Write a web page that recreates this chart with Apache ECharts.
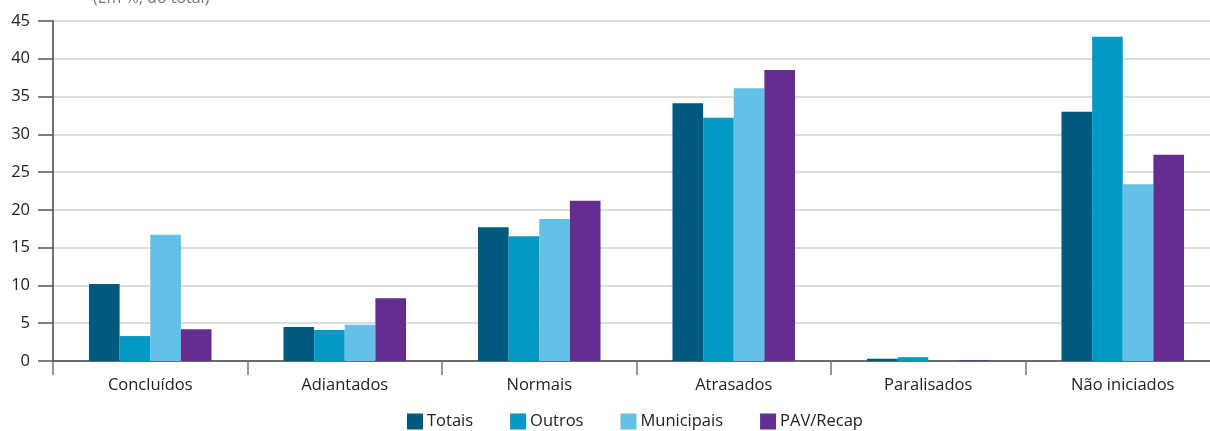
<!DOCTYPE html>
<html>
<head>
<meta charset="utf-8">
<script src="https://cdn.jsdelivr.net/npm/echarts@6/dist/echarts.min.js"></script>
<style>
  html, body { margin: 0; padding: 0; background: #fff; }
  #chart { width: 1210px; height: 431px; }
</style>
</head>
<body>
<div id="chart"></div>
<script>
// Situação das obras por tipo (em %)
const categories = ['Concluídos', 'Adiantados', 'Normais', 'Atrasados', 'Paralisados', 'Não iniciados'];
const totais     = [10.2, 4.5, 17.7, 34.1, 0.3, 33.0];
const outros     = [3.3, 4.1, 16.5, 32.2, 0.5, 42.9];
const municipais = [16.7, 4.8, 18.8, 36.1, 0.0, 23.4];
const pavRecap   = [4.2, 8.3, 21.2, 38.5, 0.1, 27.3];
const yTicks = { min: 0, max: 45, interval: 5 };

const font = '"Open Sans", "Noto Sans", sans-serif';
const colors = ['#005a7d', '#0398c5', '#63c0e6', '#662d91'];

const chart = echarts.init(document.getElementById('chart'));

function bar(name, data, color) {
  return {
    name: name,
    type: 'bar',
    data: data,
    barGap: '0%',
    barCategoryGap: '37%',
    itemStyle: { color: color },
    emphasis: { disabled: true }
  };
}

chart.setOption({
  animation: false,
  color: colors,
  title: {
    text: '(Em %, do total)',
    left: 88,
    top: -15,
    textStyle: { fontFamily: font, fontSize: 16, fontWeight: 'normal', color: '#777' }
  },
  grid: { left: 53, top: 21, width: 1167, height: 340, containLabel: false, outerBoundsMode: 'none' },
  legend: {
    bottom: -4,
    left: 402,
    itemWidth: 16,
    itemHeight: 16,
    itemGap: 37,
    icon: 'rect',
    textStyle: { fontFamily: font, fontSize: 16.5, color: '#222', padding: [0, 0, 0, -1] },
    data: ['Totais', 'Outros', 'Municipais', 'PAV/Recap']
  },
  xAxis: {
    type: 'category',
    data: categories,
    boundaryGap: true,
    axisLine: { lineStyle: { color: '#444', width: 1.5 } },
    axisTick: { show: true, length: 14, lineStyle: { color: '#777', width: 1.5 } },
    axisLabel: { fontFamily: font, fontSize: 16.5, color: '#222', margin: 16 }
  },
  yAxis: {
    type: 'value',
    min: yTicks.min,
    max: yTicks.max,
    interval: yTicks.interval,
    axisLine: { show: true, lineStyle: { color: '#444', width: 1.5 } },
    axisTick: { show: true, length: 15, lineStyle: { color: '#555', width: 1.5 } },
    axisLabel: { fontFamily: font, fontSize: 16.5, color: '#222', margin: 23 },
    splitLine: { lineStyle: { color: '#d2d2d2', width: 1.5 } }
  },
  series: [
    bar('Totais', totais, colors[0]),
    bar('Outros', outros, colors[1]),
    bar('Municipais', municipais, colors[2]),
    bar('PAV/Recap', pavRecap, colors[3])
  ]
});
</script>
</body>
</html>
